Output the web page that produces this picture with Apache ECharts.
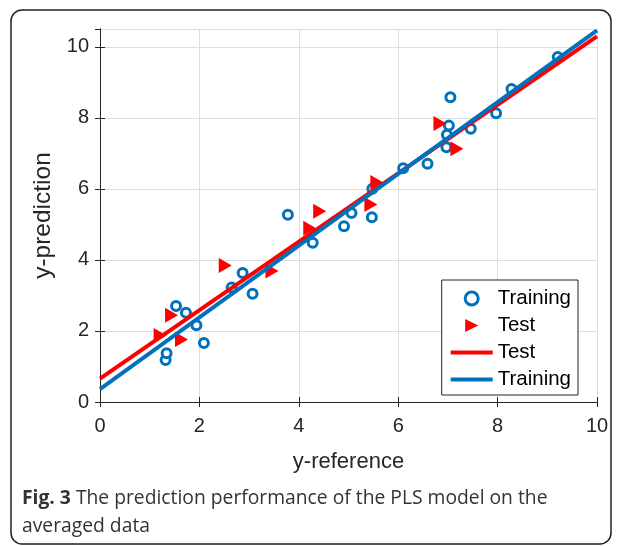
<!DOCTYPE html>
<html>
<head>
<meta charset="utf-8">
<script src="https://cdn.jsdelivr.net/npm/echarts@6/dist/echarts.min.js"></script>
<style>
  html, body { margin: 0; padding: 0; background: #fff; }
  #chart { width: 621px; height: 546px; }
</style>
</head>
<body>
<div id="chart"></div>
<script>
// Training samples (blue circles)
const trainX = [1.32, 1.34, 1.53, 1.73, 1.94, 2.09, 2.65, 2.87, 3.07, 3.78, 4.28, 4.91, 5.06, 5.47, 5.48,
  6.10, 6.59, 6.97, 6.98, 7.02, 7.05, 7.46, 7.97, 8.28, 9.21]
const trainY = [1.18, 1.37, 2.70, 2.51, 2.16, 1.66, 3.22, 3.63, 3.05, 5.27, 4.48, 4.95, 5.32, 5.20, 6.00,
  6.58, 6.71, 7.17, 7.52, 7.78, 8.58, 7.69, 8.13, 8.81, 9.71]
// Test samples (red triangles)
const testX = [1.21, 1.44, 1.64, 2.52, 3.46, 4.22, 4.42, 5.45, 5.57, 6.84, 7.18]
const testY = [1.87, 2.44, 1.76, 3.84, 3.69, 4.89, 5.37, 5.56, 6.18, 7.84, 7.13]
// fitted lines, read at x = 0 and x = 10
const fitX = [0, 10]
const testFitY = [0.66, 10.29]
const trainFitY = [0.36, 10.46]
const ticks = [0, 2, 4, 6, 8, 10]

// the fit lines share names with the scatter series, a zero-width char keeps them apart in the legend
const testLineName = 'Test\u200B'
const trainLineName = 'Training\u200B'

const zip = (a, b) => a.map((v, i) => [v, b[i]])
const tri = 'path://M0,0 L10,5 L0,10 Z'
const dark = '#262626'
const blue = '#0072BD'
const red = '#FF0000'
const font = 'Liberation Sans'

let myChart = echarts.init(document.getElementById('chart'))

let axisBase = {
  type: 'value',
  min: 0,
  interval: 2,
  axisLine: { show: true, lineStyle: { color: dark, width: 1 } },
  axisTick: { show: true, inside: true, length: 5, lineStyle: { color: dark } },
  splitLine: { show: false }
}

let option = {
  animation: false,
  backgroundColor: '#fff',
  grid: { left: 100, top: 29, width: 497, height: 373, containLabel: false },
  graphic: [
    {
      type: 'rect',
      shape: { x: 11, y: 10, width: 600, height: 534, r: 11 },
      style: { fill: 'none', stroke: '#222', lineWidth: 1.5 },
      z: -1
    },
    {
      type: 'text',
      left: 22,
      top: 485,
      style: {
        text: '{b|Fig. 3} The prediction performance of the PLS model on the\naveraged data',
        font: '19.3px "Open Sans"',
        fill: '#333',
        lineHeight: 28,
        rich: {
          b: { fontFamily: 'Open Sans', fontWeight: 'bold', fontSize: 19.3, fill: '#333' }
        }
      }
    }
  ],
  legend: {
    right: 43,
    top: 280,
    orient: 'vertical',
    itemWidth: 42,
    itemHeight: 13,
    itemGap: 6,
    padding: [8, 7, 5, 7],
    backgroundColor: '#fff',
    borderColor: dark,
    borderWidth: 1,
    borderRadius: 0,
    textStyle: { fontFamily: font, fontSize: 20.5, color: '#000' },
    data: [
      { name: 'Training', itemStyle: { borderWidth: 3 } },
      'Test',
      { name: testLineName, itemStyle: { opacity: 0 }, lineStyle: { width: 4 } },
      { name: trainLineName, itemStyle: { opacity: 0 }, lineStyle: { width: 4 } }
    ]
  },
  xAxis: [
    Object.assign({}, axisBase, {
      max: 10,
      name: 'y-reference',
      nameLocation: 'middle',
      nameGap: 49,
      nameTextStyle: { fontFamily: font, fontSize: 22, color: dark },
      axisLabel: { fontFamily: font, fontSize: 20, color: dark, margin: 14 },
      splitLine: { show: true, lineStyle: { color: '#dedede', width: 1 } }
    }),
    Object.assign({}, axisBase, { max: 10, position: 'top', axisLabel: { show: false } })
  ],
  yAxis: [
    Object.assign({}, axisBase, {
      max: 10.5,
      name: 'y-prediction',
      nameLocation: 'middle',
      nameGap: 41,
      nameTextStyle: { fontFamily: font, fontSize: 24.5, color: dark },
      axisLabel: {
        fontFamily: font, fontSize: 20, color: dark, margin: 11, showMaxLabel: false,
        formatter: v => ticks.includes(v) ? String(v) : ''
      },
      splitLine: { show: true, lineStyle: { color: '#dedede', width: 1 } }
    }),
    Object.assign({}, axisBase, {
      max: 10.5, position: 'right', axisLabel: { show: false }
    })
  ],
  series: [
    {
      name: 'Training',
      type: 'scatter',
      symbol: 'circle',
      symbolSize: 9,
      itemStyle: { color: '#fff', borderColor: blue, borderWidth: 3, opacity: 1 },
      data: zip(trainX, trainY)
    },
    {
      name: 'Test',
      type: 'scatter',
      symbol: tri,
      symbolSize: [13, 15],
      itemStyle: { color: red, opacity: 1 },
      data: zip(testX, testY)
    },
    {
      name: testLineName,
      type: 'line',
      symbol: 'none',
      lineStyle: { color: red, width: 4 },
      itemStyle: { color: red },
      data: zip(fitX, testFitY)
    },
    {
      name: trainLineName,
      type: 'line',
      symbol: 'none',
      lineStyle: { color: blue, width: 4 },
      itemStyle: { color: blue },
      data: zip(fitX, trainFitY)
    }
  ]
}
myChart.setOption(option)
window.addEventListener('resize', function () {
  myChart.resize()
})
</script>
</body>
</html>
